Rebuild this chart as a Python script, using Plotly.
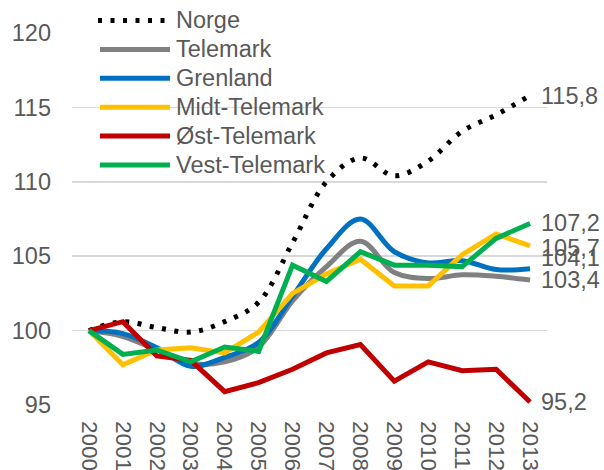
import plotly.graph_objects as go

years = list(range(2000, 2014))
series_names = ["Norge", "Telemark", "Grenland", "Midt-Telemark", "Øst-Telemark", "Vest-Telemark"]
norge = [100.0, 100.6, 100.2, 99.9, 100.6, 101.9, 105.9, 110.0, 111.6, 110.4, 111.4, 113.4, 114.5, 115.8]
telemark = [100.0, 99.6, 98.7, 97.8, 97.9, 98.9, 102.0, 104.3, 106.0, 103.9, 103.5, 103.75, 103.65, 103.4]
grenland = [100.0, 99.8, 98.85, 97.6, 98.2, 99.2, 102.3, 105.5, 107.5, 105.3, 104.55, 104.7, 104.1, 104.15]
midt = [100.0, 97.7, 98.7, 98.85, 98.5, 99.9, 102.5, 103.8, 104.8, 103.0, 103.0, 105.1, 106.5, 105.7]
ost = [100.0, 100.6, 98.3, 98.0, 95.9, 96.5, 97.4, 98.5, 99.06, 96.6, 97.9, 97.3, 97.4, 95.2]
vest = [100.0, 98.4, 98.7, 97.9, 98.9, 98.6, 104.4, 103.3, 105.3, 104.4, 104.4, 104.3, 106.2, 107.2]
end_labels = ["115,8", "103,4", "104,1", "105,7", "95,2", "107,2"]
y_ticks = [95, 100, 105, 110, 115, 120]

all_values = [norge, telemark, grenland, midt, ost, vest]
colors = ["#000000", "#808080", "#0070C0", "#FFC000", "#C00000", "#00B050"]
shapes_kind = ["spline", "spline", "spline", "linear", "linear", "linear"]
label_shift = [0, 0, 11, -2, 0, 0]

FONT = "Liberation Sans, Arial, sans-serif"
TXT = "#595959"
FS = 23.5

fig = go.Figure()
for name, vals, col, shp in zip(series_names, all_values, colors, shapes_kind):
    if name == "Norge":
        line = dict(color=col, width=5, dash="4px,8.5px", shape=shp)
    else:
        line = dict(color=col, width=5, shape=shp)
    fig.add_trace(go.Scatter(x=years, y=vals, mode="lines", name=name, line=line,
                             showlegend=False, hoverinfo="skip"))

# end labels
for vals, lab, ys in zip(all_values, end_labels, label_shift):
    fig.add_annotation(x=years[-1], y=vals[-1], text=lab, showarrow=False,
                       xanchor="left", yanchor="middle", xshift=9, yshift=ys,
                       font=dict(family=FONT, size=FS, color=TXT))

W, H = 604, 470
L, R, T, B = 72, 604 - 547, 33, 65
pw, ph = W - L - R, H - T - B

def px2x(px):
    return (px - L) / pw

def py2y(py):
    return (H - B - py) / ph

row0, step = 20.5, 28.9
for i, (name, col) in enumerate(zip(series_names, colors)):
    yc = row0 + i * step
    if name == "Norge":
        ln = dict(color=col, width=5, dash="4px,8.5px")
        x0 = 98
    else:
        ln = dict(color=col, width=5)
        x0 = 100
    fig.add_shape(type="line", xref="paper", yref="paper",
                  x0=px2x(x0), x1=px2x(170), y0=py2y(yc), y1=py2y(yc), line=ln)
    fig.add_annotation(xref="paper", yref="paper", x=px2x(174), y=py2y(yc),
                       text=name, showarrow=False, xanchor="left", yanchor="middle",
                       font=dict(family=FONT, size=FS, color=TXT))

fig.update_layout(
    template="none",
    width=W, height=H,
    margin=dict(l=L, r=R, t=T, b=B, autoexpand=False),
    paper_bgcolor="white", plot_bgcolor="white",
    font=dict(family=FONT, size=FS, color=TXT),
    showlegend=False,
)
fig.update_xaxes(range=[1999.5, 2013.5], tickvals=years, ticktext=[str(y) for y in years],
                 tickangle=90, showgrid=False, zeroline=False, showline=False,
                 ticks="", tickfont=dict(family=FONT, size=22.5, color=TXT),
                 ticklabelstandoff=15, automargin=False)
fig.update_yaxes(range=[95, 120], tickvals=y_ticks, showgrid=True, gridcolor="#D9D9D9",
                 gridwidth=1.5, zeroline=False, showline=False, ticks="",
                 tickfont=dict(family=FONT, size=FS, color=TXT), ticklabelstandoff=20,
                 automargin=False)

fig.write_html(
    "out.html",
    config={"displayModeBar": False, "staticPlot": True},
    post_script="document.body.style.margin='0';document.body.style.overflow='hidden';",
)
